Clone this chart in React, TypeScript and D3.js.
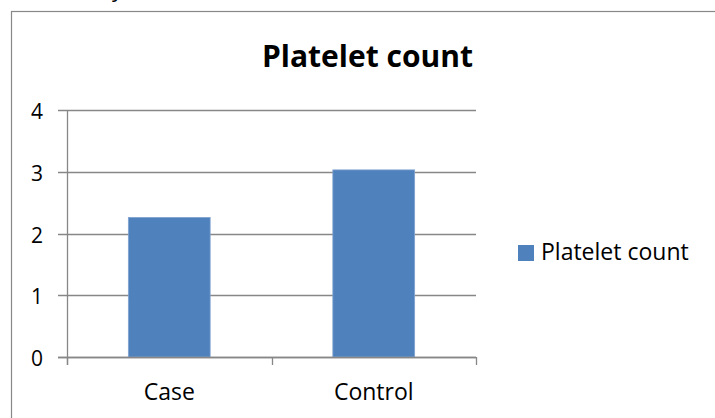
import React from "react";
import * as d3 from "d3";

const categories = ["Case", "Control"];
const plateletCount = [2.26, 3.03];
const yTicks = [0, 1, 2, 3, 4];
const seriesName = "Platelet count";
const chartTitle = "Platelet count";

const W = 715;
const H = 418;
const FONT = "'Open Sans', 'DejaVu Sans', sans-serif";
const BAR = "#4F81BD";
const GRID = "#878787";

export default function App() {
  const plot = { left: 67, right: 476, top: 110, bottom: 357 };

  const x = d3
    .scaleBand<string>()
    .domain(categories)
    .range([plot.left, plot.right])
    .paddingInner(0.6)
    .paddingOuter(0.3);

  const y = d3.scaleLinear().domain([0, 4]).range([plot.bottom, plot.top]);

  // category boundaries for the x-axis tick marks
  const step = (plot.right - plot.left) / categories.length;
  const xTickPos = d3.range(categories.length + 1).map((i) => plot.left + i * step);

  return (
    <svg
      width={W}
      height={H}
      style={{ position: "absolute", left: 0, top: 0, background: "#fff" }}
      fontFamily={FONT}
    >
      {/* tail of the text line above the figure */}
      <text x={112} y={-3} fontSize={22} fill="#000">
        y
      </text>

      {/* chart frame */}
      <rect x={11.5} y={11.5} width={W + 20} height={H + 20} fill="#fff" stroke="#888" strokeWidth={1.2} />

      <text
        x={367.5}
        y={67}
        textAnchor="middle"
        fontSize={30}
        fontWeight="bold"
        fill="#000"
      >
        {chartTitle}
      </text>

      {/* horizontal gridlines with outward ticks */}
      {yTicks.map((t) => (
        <g key={t}>
          <line
            x1={plot.left - 9}
            x2={plot.right}
            y1={Math.round(y(t)) + 0.5}
            y2={Math.round(y(t)) + 0.5}
            stroke={GRID}
            strokeWidth={1.3}
          />
          <text
            x={43}
            y={y(t) + 1}
            textAnchor="end"
            dominantBaseline="central"
            fontSize={21}
            fill="#000"
          >
            {t}
          </text>
        </g>
      ))}

      {/* bars */}
      {categories.map((c, i) => (
        <rect
          key={c}
          x={x(c)}
          y={y(plateletCount[i])}
          width={x.bandwidth()}
          height={y(0) - y(plateletCount[i])}
          fill={BAR}
          stroke="#7FA2CF"
          strokeWidth={0.8}
        />
      ))}

      {/* value axis */}
      <line
        x1={plot.left + 0.5}
        x2={plot.left + 0.5}
        y1={plot.top}
        y2={plot.bottom + 8}
        stroke={GRID}
        strokeWidth={1.3}
      />
      {/* category axis */}
      <line
        x1={plot.left - 9}
        x2={plot.right}
        y1={plot.bottom + 0.5}
        y2={plot.bottom + 0.5}
        stroke={GRID}
        strokeWidth={1.3}
      />
      {xTickPos.map((p, i) => (
        <line
          key={i}
          x1={Math.round(p) + 0.5}
          x2={Math.round(p) + 0.5}
          y1={plot.bottom}
          y2={plot.bottom + 8}
          stroke={GRID}
          strokeWidth={1.3}
        />
      ))}
      {categories.map((c) => (
        <text
          key={c}
          x={(x(c) as number) + x.bandwidth() / 2}
          y={400}
          textAnchor="middle"
          fontSize={23}
          fill="#000"
        >
          {c}
        </text>
      ))}

      {/* legend */}
      <rect x={518} y={245} width={16} height={16} fill={BAR} />
      <text x={541} y={260} fontSize={23} fill="#000">
        {seriesName}
      </text>
    </svg>
  );
}
